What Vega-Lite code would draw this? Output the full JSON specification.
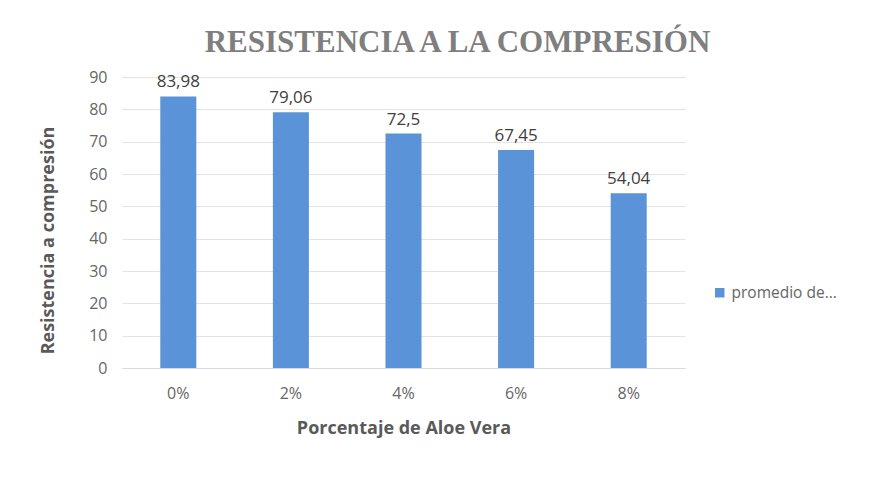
{
  "$schema": "https://vega.github.io/schema/vega-lite/v6.json",
  "width": 563,
  "height": 291,
  "autosize": "none",
  "padding": {"left": 122, "top": 77, "right": 208, "bottom": 116},
  "background": "white",
  "title": {
    "text": "RESISTENCIA A LA COMPRESIÓN",
    "font": "Liberation Serif",
    "fontSize": 31,
    "fontWeight": "bold",
    "color": "#7f7f7f",
    "anchor": "middle",
    "dx": 54,
    "offset": 10
  },
  "data": {
    "values": [
      {"pct": "0%", "valor": 83.98, "etiqueta": "83,98", "serie": "promedio de..."},
      {"pct": "2%", "valor": 79.06, "etiqueta": "79,06", "serie": "promedio de..."},
      {"pct": "4%", "valor": 72.5, "etiqueta": "72,5", "serie": "promedio de..."},
      {"pct": "6%", "valor": 67.45, "etiqueta": "67,45", "serie": "promedio de..."},
      {"pct": "8%", "valor": 54.04, "etiqueta": "54,04", "serie": "promedio de..."}
    ]
  },
  "encoding": {
    "x": {
      "field": "pct",
      "type": "nominal",
      "sort": null,
      "scale": {"paddingInner": 0.68, "paddingOuter": 0.34},
      "axis": {
        "title": "Porcentaje de Aloe Vera",
        "labelAngle": 0,
        "labelFont": "Open Sans",
        "labelFontSize": 16,
        "labelColor": "#666666",
        "labelPadding": 17,
        "ticks": false,
        "domainColor": "#d9d9d9",
        "titleFont": "Open Sans",
        "titleFontSize": 18,
        "titleFontWeight": "bold",
        "titleColor": "#595959",
        "titlePadding": 18
      }
    },
    "y": {
      "field": "valor",
      "type": "quantitative",
      "scale": {"domain": [0, 90]},
      "axis": {
        "title": "Resistencia a compresión",
        "values": [0, 10, 20, 30, 40, 50, 60, 70, 80, 90],
        "ticks": false,
        "domain": false,
        "gridColor": "#e3e3e3",
        "labelFont": "Open Sans",
        "labelFontSize": 16,
        "labelColor": "#666666",
        "labelPadding": 15,
        "titleFont": "Open Sans",
        "titleFontSize": 18,
        "titleFontWeight": "bold",
        "titleColor": "#595959",
        "titlePadding": 31,
        "titleY": 163
      }
    }
  },
  "layer": [
    {
      "mark": {"type": "bar", "color": "#5b93d8"},
      "encoding": {
        "color": {
          "field": "serie",
          "type": "nominal",
          "scale": {"range": ["#5b93d8"]},
          "legend": {
            "title": null,
            "orient": "none",
            "legendX": 590,
            "legendY": 208,
            "symbolType": "square",
            "symbolSize": 90,
            "labelFont": "Open Sans",
            "labelFontSize": 15.5,
            "labelColor": "#666666",
            "labelOffset": 4
          }
        }
      }
    },
    {
      "mark": {"type": "text", "dy": -14, "font": "Open Sans", "fontSize": 17, "color": "#404040"},
      "encoding": {"text": {"field": "etiqueta"}}
    }
  ],
  "config": {"view": {"stroke": null}}
}
